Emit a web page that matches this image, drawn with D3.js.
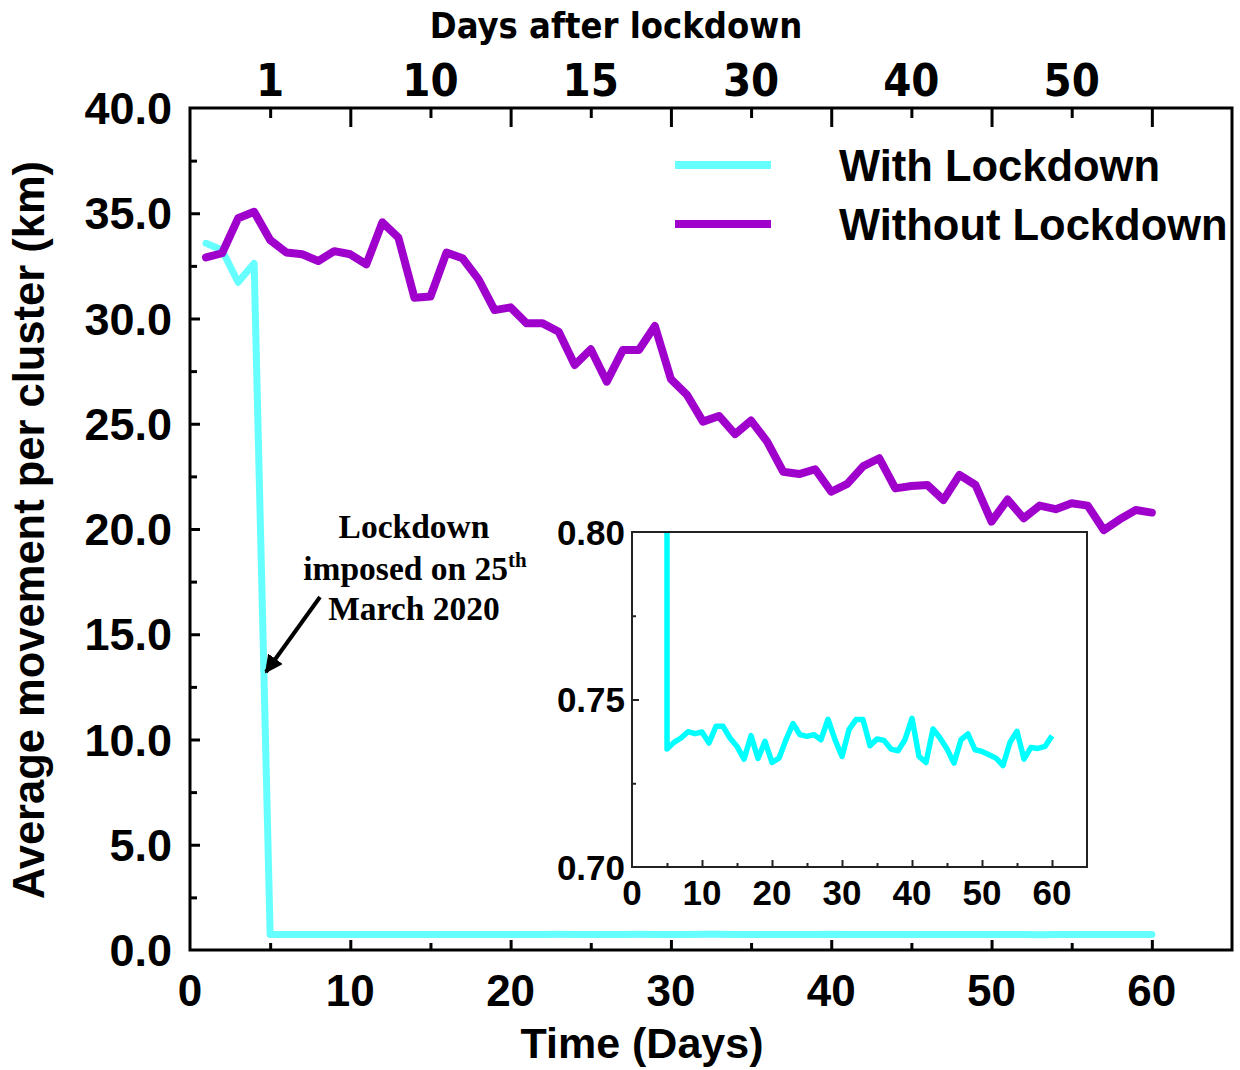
<!DOCTYPE html>
<html>
<head>
<meta charset="utf-8">
<script src="https://cdn.jsdelivr.net/npm/d3@7/dist/d3.min.js"></script>
<style>
  html, body { margin: 0; padding: 0; background: #fff; }
  svg { display: block; }
</style>
</head>
<body>
<script>
// ---------------- DATA ----------------
const days = [1,2,3,4,5,6,7,8,9,10,11,12,13,14,15,16,17,18,19,20,21,22,23,24,25,26,27,28,29,30,
              31,32,33,34,35,36,37,38,39,40,41,42,43,44,45,46,47,48,49,50,51,52,53,54,55,56,57,58,59,60];

const withLockdown = [33.57, 33.25, 31.72, 32.62, 0.7352, 0.7372, 0.7385, 0.7404, 0.7398, 0.7403,
  0.7370, 0.7420, 0.7420, 0.7385, 0.7360, 0.7322, 0.7392, 0.7324, 0.7375, 0.7312,
  0.7325, 0.7380, 0.7428, 0.7395, 0.7390, 0.7395, 0.7380, 0.7441, 0.7380, 0.7330,
  0.7410, 0.7440, 0.7440, 0.7362, 0.7382, 0.7378, 0.7352, 0.7347, 0.7380, 0.7444,
  0.7330, 0.7312, 0.7412, 0.7385, 0.7352, 0.7310, 0.7380, 0.7397, 0.7350, 0.7345,
  0.7335, 0.7325, 0.7303, 0.7372, 0.7405, 0.7322, 0.7357, 0.7354, 0.7360, 0.7392];

const withoutLockdown = [32.90, 33.10, 34.76, 35.07, 33.73, 33.14, 33.05, 32.73, 33.20, 33.05,
  32.57, 34.57, 33.84, 30.99, 31.04, 33.13, 32.86, 31.86, 30.40, 30.53,
  29.77, 29.77, 29.37, 27.79, 28.54, 27.00, 28.50, 28.50, 29.64, 27.12,
  26.37, 25.10, 25.37, 24.51, 25.15, 24.15, 22.72, 22.61, 22.84, 21.77,
  22.14, 22.99, 23.36, 21.93, 22.04, 22.09, 21.38, 22.57, 22.09, 20.35,
  21.40, 20.51, 21.11, 20.94, 21.22, 21.11, 19.95, 20.46, 20.90, 20.78];

const yTicksMain = [0, 5, 10, 15, 20, 25, 30, 35, 40];
const xTicksMain = [0, 10, 20, 30, 40, 50, 60];
const topTickPositions = [5, 15, 25, 35, 45, 55];
const topTickLabels = ["1", "10", "15", "30", "40", "50"];
const insetYTicks = [0.70, 0.75, 0.80];
const insetXTicks = [0, 10, 20, 30, 40, 50, 60];
const seriesNames = ["With Lockdown", "Without Lockdown"];
const annotationLines = ["Lockdown", "imposed on 25", "March 2020"];

// ---------------- LAYOUT ----------------
const W = 1240, H = 1070;
const svg = d3.select("body").append("svg").attr("width", W).attr("height", H);
svg.append("rect").attr("width", W).attr("height", H).attr("fill", "#fff");
const defs = svg.append("defs");

const plot = { left: 190, right: 1232, top: 108, bottom: 950 };
const x = d3.scaleLinear().domain([0, 65]).range([plot.left, plot.right]);
const y = d3.scaleLinear().domain([0, 40]).range([plot.bottom, plot.top]);

const cyanMain = "#66FFFF", cyanInset = "#00FFFF", purple = "#9F00CC";
const sans = "'Liberation Sans', Arial, Helvetica, sans-serif";
const narrow = "'Liberation Sans Narrow', 'DejaVu Sans Condensed', 'Liberation Sans', sans-serif";
const serif = "'Liberation Serif', 'Times New Roman', serif";

// ---------------- MAIN AXES ----------------
const gMain = svg.append("g");

// bottom axis (inward ticks)
const bottomAxis = d3.axisBottom(x).tickValues(d3.range(0, 61, 5)).tickSizeInner(0).tickSizeOuter(0).tickFormat("");
const gB = gMain.append("g").attr("transform", `translate(0,${plot.bottom})`).call(bottomAxis);
gB.select(".domain").remove();
gB.selectAll(".tick line").attr("y2", d => d % 10 === 0 ? -10 : -7).attr("stroke", "#000").attr("stroke-width", 3);
gB.selectAll(".tick").filter(d => d === 0).remove();
gMain.selectAll(".xlab").data(xTicksMain).enter().append("text")
  .attr("x", d => x(d)).attr("y", 1006).attr("text-anchor", "middle")
  .attr("font-family", sans).attr("font-weight", "bold").attr("font-size", 44).text(d => d);

// left axis
const leftAxis = d3.axisLeft(y).tickValues(d3.range(0, 40.1, 2.5)).tickSizeInner(0).tickSizeOuter(0).tickFormat("");
const gL = gMain.append("g").attr("transform", `translate(${plot.left},0)`).call(leftAxis);
gL.select(".domain").remove();
gL.selectAll(".tick line").attr("x2", d => d % 5 === 0 ? 10 : 7).attr("stroke", "#000").attr("stroke-width", 3);
gL.selectAll(".tick").filter(d => d === 0 || d === 40).remove();
gMain.selectAll(".ylab").data(yTicksMain).enter().append("text")
  .attr("x", 172).attr("y", d => y(d)).attr("dy", "0.36em").attr("text-anchor", "end")
  .attr("font-family", sans).attr("font-weight", "bold").attr("font-size", 45).text(d => d.toFixed(1));

// top axis
const topAxis = d3.axisTop(x).tickValues(d3.range(5, 61, 5)).tickSizeInner(0).tickSizeOuter(0).tickFormat("");
const gT = gMain.append("g").attr("transform", `translate(0,${plot.top})`).call(topAxis);
gT.select(".domain").remove();
gT.selectAll(".tick line").attr("y2", d => d % 10 === 0 ? 19 : 10).attr("stroke", "#000").attr("stroke-width", 3);
gMain.selectAll(".toplab").data(topTickPositions).enter().append("text")
  .attr("x", d => x(d)).attr("y", 96).attr("text-anchor", "middle")
  .attr("font-family", narrow).attr("font-weight", "bold").attr("font-size", 45)
  .text((d, i) => topTickLabels[i]);
gMain.append("text").attr("x", 616).attr("y", 38).attr("text-anchor", "middle")
  .attr("font-family", narrow).attr("font-weight", "bold").attr("font-size", 36)
  .text("Days after lockdown");

// frame
gMain.append("rect").attr("x", plot.left).attr("y", plot.top)
  .attr("width", plot.right - plot.left).attr("height", plot.bottom - plot.top)
  .attr("fill", "none").attr("stroke", "#000").attr("stroke-width", 3);

// axis titles
gMain.append("text").attr("x", 642).attr("y", 1058).attr("text-anchor", "middle")
  .attr("font-family", sans).attr("font-weight", "bold").attr("font-size", 43).text("Time (Days)");
gMain.append("text").attr("transform", "translate(44,530) rotate(-90)").attr("text-anchor", "middle")
  .attr("font-family", sans).attr("font-weight", "bold").attr("font-size", 43.5)
  .text("Average movement per cluster (km)");

// ---------------- MAIN LINES ----------------
const line = d3.line().x((d, i) => x(days[i])).y(d => y(d));
gMain.append("path").datum(withLockdown).attr("d", line)
  .attr("fill", "none").attr("stroke", cyanMain).attr("stroke-width", 7)
  .attr("stroke-linejoin", "round").attr("stroke-linecap", "round");
gMain.append("path").datum(withoutLockdown).attr("d", line)
  .attr("fill", "none").attr("stroke", purple).attr("stroke-width", 8)
  .attr("stroke-linejoin", "round").attr("stroke-linecap", "round");

// ---------------- LEGEND ----------------
const legend = svg.append("g");
const legColors = [cyanMain, purple];
const legY = [165, 224];
seriesNames.forEach((name, i) => {
  legend.append("line").attr("x1", 675).attr("x2", 771).attr("y1", legY[i]).attr("y2", legY[i])
    .attr("stroke", legColors[i]).attr("stroke-width", 8);
  legend.append("text").attr("x", 839).attr("y", legY[i] + 16)
    .attr("font-family", sans).attr("font-weight", "bold").attr("font-size", 43.5).text(name);
});

// ---------------- ANNOTATION ----------------
const ann = svg.append("g").attr("font-family", serif).attr("font-weight", "bold").attr("font-size", 33.5);
ann.append("text").attr("x", 414).attr("y", 538).attr("text-anchor", "middle").text(annotationLines[0]);
const t2 = ann.append("text").attr("x", 415).attr("y", 580).attr("text-anchor", "middle");
t2.append("tspan").text(annotationLines[1]);
t2.append("tspan").attr("font-size", 21).attr("dy", -13).text("th");
ann.append("text").attr("x", 414).attr("y", 620).attr("text-anchor", "middle").text(annotationLines[2]);

defs.append("marker").attr("id", "arrow")
  .attr("viewBox", "0 0 10 10").attr("refX", 9).attr("refY", 5)
  .attr("markerWidth", 4.5).attr("markerHeight", 4.5).attr("orient", "auto")
  .append("path").attr("d", "M0,0 L10,5 L0,10 Z").attr("fill", "#000");
svg.append("line").attr("x1", 320).attr("y1", 597).attr("x2", 266).attr("y2", 672)
  .attr("stroke", "#000").attr("stroke-width", 4).attr("marker-end", "url(#arrow)");

// ---------------- INSET ----------------
const inset = { left: 632, right: 1087, top: 532, bottom: 867 };
const xi = d3.scaleLinear().domain([0, 65]).range([inset.left, inset.right]);
const yi = d3.scaleLinear().domain([0.70, 0.80]).range([inset.bottom, inset.top]);
const gI = svg.append("g");
gI.append("rect").attr("x", inset.left).attr("y", inset.top)
  .attr("width", inset.right - inset.left).attr("height", inset.bottom - inset.top)
  .attr("fill", "#fff");
defs.append("clipPath").attr("id", "insetClip").append("rect")
  .attr("x", inset.left).attr("y", inset.top)
  .attr("width", inset.right - inset.left).attr("height", inset.bottom - inset.top);

const insetLine = d3.line().x((d, i) => xi(days[i])).y(d => yi(d));
gI.append("path").datum(withLockdown).attr("d", insetLine).attr("clip-path", "url(#insetClip)")
  .attr("fill", "none").attr("stroke", cyanInset).attr("stroke-width", 5.5)
  .attr("stroke-linejoin", "round");

const ibAxis = d3.axisBottom(xi).tickValues(d3.range(5, 61, 5)).tickSizeInner(0).tickSizeOuter(0).tickFormat("");
const gIB = gI.append("g").attr("transform", `translate(0,${inset.bottom})`).call(ibAxis);
gIB.select(".domain").remove();
gIB.selectAll(".tick line").attr("y2", d => d % 10 === 0 ? -7 : -4).attr("stroke", "#222").attr("stroke-width", 2);
const ilAxis = d3.axisLeft(yi).tickValues([0.725, 0.75, 0.775]).tickSizeInner(0).tickSizeOuter(0).tickFormat("");
const gIL = gI.append("g").attr("transform", `translate(${inset.left},0)`).call(ilAxis);
gIL.select(".domain").remove();
gIL.selectAll(".tick line").attr("x2", d => Math.abs(d - 0.75) < 1e-9 ? 7 : 4).attr("stroke", "#222").attr("stroke-width", 2);

gI.append("rect").attr("x", inset.left).attr("y", inset.top)
  .attr("width", inset.right - inset.left).attr("height", inset.bottom - inset.top)
  .attr("fill", "none").attr("stroke", "#222").attr("stroke-width", 2);

gI.selectAll(".iyl").data(insetYTicks).enter().append("text")
  .attr("x", 625).attr("y", d => yi(d)).attr("dy", "0.36em").attr("text-anchor", "end")
  .attr("font-family", sans).attr("font-weight", "bold").attr("font-size", 35).text(d => d.toFixed(2));
gI.selectAll(".ixl").data(insetXTicks).enter().append("text")
  .attr("x", d => xi(d)).attr("y", 905).attr("text-anchor", "middle")
  .attr("font-family", sans).attr("font-weight", "bold").attr("font-size", 35).text(d => d);
</script>
</body>
</html>
